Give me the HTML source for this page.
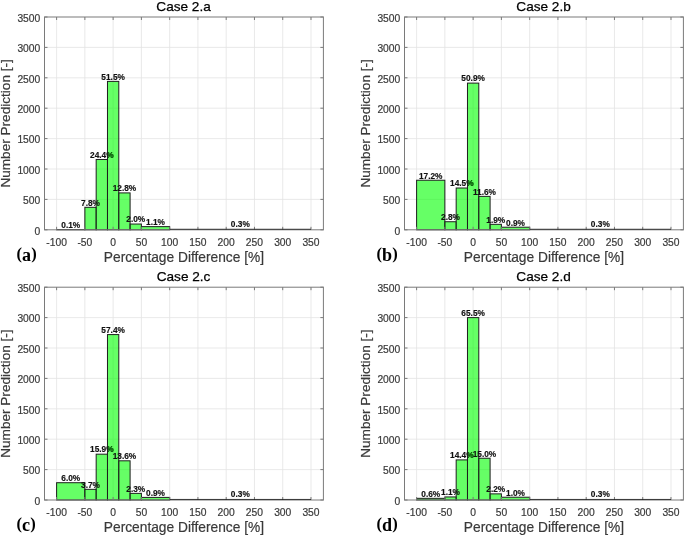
<!DOCTYPE html>
<html><head><meta charset="utf-8"><title>Histograms</title>
<style>
html,body{margin:0;padding:0;background:#fff;}
body{width:685px;height:537px;overflow:hidden;}
svg{display:block;filter:blur(0.35px);}
text{font-family:"Liberation Sans",sans-serif;}
.lb text{font-size:8.3px;font-weight:bold;fill:#111;stroke:#111;stroke-width:0.15px;text-anchor:middle;}
.xt text{font-size:10.3px;fill:#3a3a3a;stroke:#3a3a3a;stroke-width:0.2px;text-anchor:middle;}
.yt text{font-size:10.3px;fill:#3a3a3a;stroke:#3a3a3a;stroke-width:0.2px;text-anchor:end;}
.ti{font-size:13.6px;fill:#000;stroke:#000;stroke-width:0.25px;text-anchor:middle;}
.xl{font-size:13.75px;fill:#3a3a3a;stroke:#3a3a3a;stroke-width:0.2px;text-anchor:middle;}
.yl{font-size:13.6px;fill:#3a3a3a;stroke:#3a3a3a;stroke-width:0.2px;text-anchor:middle;}
.lbg text{fill:#135013;stroke:#135013;}
.tl{font-size:18.1px;}
.tag{font-family:"Liberation Serif",serif;font-size:16.5px;font-weight:bold;fill:#000;}
</style></head>
<body><svg width="685" height="537" viewBox="0 0 685 537">
<rect width="685" height="537" fill="#fff"/>
<path d="M56.6 17V229.8M84.87 17V229.8M113.13 17V229.8M141.4 17V229.8M169.66 17V229.8M197.93 17V229.8M226.19 17V229.8M254.46 17V229.8M282.72 17V229.8M310.99 17V229.8M44.5 199.4H323.4M44.5 169H323.4M44.5 138.6H323.4M44.5 108.2H323.4M44.5 77.8H323.4M44.5 47.4H323.4" stroke="#e3e3e3" stroke-width="0.8" fill="none"/>
<g class="lb"><text x="101.82" y="157.78">24.4%</text></g>
<g fill="#00ff00" fill-opacity="0.6" stroke="#1e1e1e" stroke-width="1.0"><rect x="56.6" y="229.51" width="28.27" height="0.29"/><rect x="84.87" y="207.32" width="11.31" height="22.48"/><rect x="96.17" y="159.48" width="11.31" height="70.32"/><rect x="107.48" y="81.38" width="11.31" height="148.42"/><rect x="118.78" y="192.91" width="11.31" height="36.89"/><rect x="130.09" y="224.04" width="11.31" height="5.76"/><rect x="141.4" y="226.63" width="28.26" height="3.17"/></g>
<g class="lb"><text x="70.73" y="227.81">0.1%</text><text x="90.52" y="205.62">7.8%</text><text x="113.13" y="79.68">51.5%</text><text x="124.44" y="191.21">12.8%</text><text x="135.74" y="222.34">2.0%</text><text x="155.53" y="224.93">1.1%</text><text x="240.32" y="227.24">0.3%</text></g>
<clipPath id="cpa"><rect x="107.98" y="81.88" width="10.31" height="148.42"/></clipPath>
<g class="lb lbg" clip-path="url(#cpa)"><text x="101.82" y="157.78">24.4%</text></g>
<path d="M56.6 229.8v-3M56.6 17v3M84.87 229.8v-3M84.87 17v3M113.13 229.8v-3M113.13 17v3M141.4 229.8v-3M141.4 17v3M169.66 229.8v-3M169.66 17v3M197.93 229.8v-3M197.93 17v3M226.19 229.8v-3M226.19 17v3M254.46 229.8v-3M254.46 17v3M282.72 229.8v-3M282.72 17v3M310.99 229.8v-3M310.99 17v3M44.5 229.8h3M323.4 229.8h-3M44.5 199.4h3M323.4 199.4h-3M44.5 169h3M323.4 169h-3M44.5 138.6h3M323.4 138.6h-3M44.5 108.2h3M323.4 108.2h-3M44.5 77.8h3M323.4 77.8h-3M44.5 47.4h3M323.4 47.4h-3M44.5 17h3M323.4 17h-3" stroke="#7a7a7a" stroke-width="1.0" fill="none"/>
<rect x="44.5" y="17" width="278.9" height="212.8" fill="none" stroke="#7a7a7a" stroke-width="1.0"/>
<path d="M169.66 229.25H310.99" stroke="#111" stroke-width="0.8"/>
<g class="xt"><text x="56.6" y="245.5">-100</text><text x="84.87" y="245.5">-50</text><text x="113.13" y="245.5">0</text><text x="141.4" y="245.5">50</text><text x="169.66" y="245.5">100</text><text x="197.93" y="245.5">150</text><text x="226.19" y="245.5">200</text><text x="254.46" y="245.5">250</text><text x="282.72" y="245.5">300</text><text x="310.99" y="245.5">350</text></g>
<g class="yt"><text x="40.3" y="234.5">0</text><text x="40.3" y="204.1">500</text><text x="40.3" y="173.7">1000</text><text x="40.3" y="143.3">1500</text><text x="40.3" y="112.9">2000</text><text x="40.3" y="82.5">2500</text><text x="40.3" y="52.1">3000</text><text x="40.3" y="21.7">3500</text></g>
<text class="ti" x="183.55" y="10.8">Case 2.a</text>
<text class="xl" x="183.95" y="262.2">Percentage Difference [%]</text>
<text class="yl" transform="translate(10.4 123.4) rotate(-90)">Number Prediction [-]</text>
<text class="tag" x="16.6" y="259">(<tspan class="tl" dy="1.95">a</tspan><tspan dy="-1.95">)</tspan></text>
<path d="M416.6 17V229.8M444.87 17V229.8M473.13 17V229.8M501.4 17V229.8M529.66 17V229.8M557.93 17V229.8M586.19 17V229.8M614.46 17V229.8M642.72 17V229.8M670.99 17V229.8M404.5 199.4H683.4M404.5 169H683.4M404.5 138.6H683.4M404.5 108.2H683.4M404.5 77.8H683.4M404.5 47.4H683.4" stroke="#e3e3e3" stroke-width="0.8" fill="none"/>
<g class="lb"><text x="461.82" y="186.31">14.5%</text></g>
<g fill="#00ff00" fill-opacity="0.6" stroke="#1e1e1e" stroke-width="1.0"><rect x="416.6" y="180.23" width="28.26" height="49.57"/><rect x="444.87" y="221.73" width="11.31" height="8.07"/><rect x="456.17" y="188.01" width="11.31" height="41.79"/><rect x="467.48" y="83.11" width="11.31" height="146.69"/><rect x="478.78" y="196.37" width="11.31" height="33.43"/><rect x="490.09" y="224.32" width="11.31" height="5.48"/><rect x="501.4" y="227.21" width="28.27" height="2.59"/></g>
<g class="lb"><text x="430.73" y="178.53">17.2%</text><text x="450.52" y="220.03">2.8%</text><text x="473.13" y="81.41">50.9%</text><text x="484.44" y="194.67">11.6%</text><text x="495.74" y="222.62">1.9%</text><text x="515.53" y="225.51">0.9%</text><text x="600.32" y="227.24">0.3%</text></g>
<clipPath id="cpb"><rect x="467.98" y="83.61" width="10.31" height="146.69"/></clipPath>
<g class="lb lbg" clip-path="url(#cpb)"><text x="461.82" y="186.31">14.5%</text></g>
<path d="M416.6 229.8v-3M416.6 17v3M444.87 229.8v-3M444.87 17v3M473.13 229.8v-3M473.13 17v3M501.4 229.8v-3M501.4 17v3M529.66 229.8v-3M529.66 17v3M557.93 229.8v-3M557.93 17v3M586.19 229.8v-3M586.19 17v3M614.46 229.8v-3M614.46 17v3M642.72 229.8v-3M642.72 17v3M670.99 229.8v-3M670.99 17v3M404.5 229.8h3M683.4 229.8h-3M404.5 199.4h3M683.4 199.4h-3M404.5 169h3M683.4 169h-3M404.5 138.6h3M683.4 138.6h-3M404.5 108.2h3M683.4 108.2h-3M404.5 77.8h3M683.4 77.8h-3M404.5 47.4h3M683.4 47.4h-3M404.5 17h3M683.4 17h-3" stroke="#7a7a7a" stroke-width="1.0" fill="none"/>
<rect x="404.5" y="17" width="278.9" height="212.8" fill="none" stroke="#7a7a7a" stroke-width="1.0"/>
<path d="M529.66 229.25H670.99" stroke="#111" stroke-width="0.8"/>
<g class="xt"><text x="416.6" y="245.5">-100</text><text x="444.87" y="245.5">-50</text><text x="473.13" y="245.5">0</text><text x="501.4" y="245.5">50</text><text x="529.66" y="245.5">100</text><text x="557.93" y="245.5">150</text><text x="586.19" y="245.5">200</text><text x="614.46" y="245.5">250</text><text x="642.72" y="245.5">300</text><text x="670.99" y="245.5">350</text></g>
<g class="yt"><text x="400.3" y="234.5">0</text><text x="400.3" y="204.1">500</text><text x="400.3" y="173.7">1000</text><text x="400.3" y="143.3">1500</text><text x="400.3" y="112.9">2000</text><text x="400.3" y="82.5">2500</text><text x="400.3" y="52.1">3000</text><text x="400.3" y="21.7">3500</text></g>
<text class="ti" x="543.55" y="10.8">Case 2.b</text>
<text class="xl" x="543.95" y="262.2">Percentage Difference [%]</text>
<text class="yl" transform="translate(370.4 123.4) rotate(-90)">Number Prediction [-]</text>
<text class="tag" x="376.6" y="259">(<tspan class="tl" dy="1.95">b</tspan><tspan dy="-1.95">)</tspan></text>
<path d="M56.6 287.2V500M84.87 287.2V500M113.13 287.2V500M141.4 287.2V500M169.66 287.2V500M197.93 287.2V500M226.19 287.2V500M254.46 287.2V500M282.72 287.2V500M310.99 287.2V500M44.5 469.6H323.4M44.5 439.2H323.4M44.5 408.8H323.4M44.5 378.4H323.4M44.5 348H323.4M44.5 317.6H323.4" stroke="#e3e3e3" stroke-width="0.8" fill="none"/>
<g class="lb"><text x="101.82" y="452.48">15.9%</text></g>
<g fill="#00ff00" fill-opacity="0.6" stroke="#1e1e1e" stroke-width="1.0"><rect x="56.6" y="482.71" width="28.27" height="17.29"/><rect x="84.87" y="489.34" width="11.31" height="10.66"/><rect x="96.17" y="454.18" width="11.31" height="45.82"/><rect x="107.48" y="334.58" width="11.31" height="165.42"/><rect x="118.78" y="460.81" width="11.31" height="39.19"/><rect x="130.09" y="493.37" width="11.31" height="6.63"/><rect x="141.4" y="497.41" width="28.26" height="2.59"/></g>
<g class="lb"><text x="70.73" y="481.01">6.0%</text><text x="90.52" y="487.64">3.7%</text><text x="113.13" y="332.88">57.4%</text><text x="124.44" y="459.11">13.6%</text><text x="135.74" y="491.67">2.3%</text><text x="155.53" y="495.71">0.9%</text><text x="240.32" y="497.44">0.3%</text></g>
<clipPath id="cpc"><rect x="107.98" y="335.08" width="10.31" height="165.42"/></clipPath>
<g class="lb lbg" clip-path="url(#cpc)"><text x="101.82" y="452.48">15.9%</text></g>
<path d="M56.6 500v-3M56.6 287.2v3M84.87 500v-3M84.87 287.2v3M113.13 500v-3M113.13 287.2v3M141.4 500v-3M141.4 287.2v3M169.66 500v-3M169.66 287.2v3M197.93 500v-3M197.93 287.2v3M226.19 500v-3M226.19 287.2v3M254.46 500v-3M254.46 287.2v3M282.72 500v-3M282.72 287.2v3M310.99 500v-3M310.99 287.2v3M44.5 500h3M323.4 500h-3M44.5 469.6h3M323.4 469.6h-3M44.5 439.2h3M323.4 439.2h-3M44.5 408.8h3M323.4 408.8h-3M44.5 378.4h3M323.4 378.4h-3M44.5 348h3M323.4 348h-3M44.5 317.6h3M323.4 317.6h-3M44.5 287.2h3M323.4 287.2h-3" stroke="#7a7a7a" stroke-width="1.0" fill="none"/>
<rect x="44.5" y="287.2" width="278.9" height="212.8" fill="none" stroke="#7a7a7a" stroke-width="1.0"/>
<path d="M169.66 499.45H310.99" stroke="#111" stroke-width="0.8"/>
<g class="xt"><text x="56.6" y="515.7">-100</text><text x="84.87" y="515.7">-50</text><text x="113.13" y="515.7">0</text><text x="141.4" y="515.7">50</text><text x="169.66" y="515.7">100</text><text x="197.93" y="515.7">150</text><text x="226.19" y="515.7">200</text><text x="254.46" y="515.7">250</text><text x="282.72" y="515.7">300</text><text x="310.99" y="515.7">350</text></g>
<g class="yt"><text x="40.3" y="504.7">0</text><text x="40.3" y="474.3">500</text><text x="40.3" y="443.9">1000</text><text x="40.3" y="413.5">1500</text><text x="40.3" y="383.1">2000</text><text x="40.3" y="352.7">2500</text><text x="40.3" y="322.3">3000</text><text x="40.3" y="291.9">3500</text></g>
<text class="ti" x="183.55" y="281">Case 2.c</text>
<text class="xl" x="183.95" y="532.4">Percentage Difference [%]</text>
<text class="yl" transform="translate(10.4 393.6) rotate(-90)">Number Prediction [-]</text>
<text class="tag" x="16.6" y="529.2">(<tspan class="tl" dy="1.95">c</tspan><tspan dy="-1.95">)</tspan></text>
<path d="M416.6 287.2V500M444.87 287.2V500M473.13 287.2V500M501.4 287.2V500M529.66 287.2V500M557.93 287.2V500M586.19 287.2V500M614.46 287.2V500M642.72 287.2V500M670.99 287.2V500M404.5 469.6H683.4M404.5 439.2H683.4M404.5 408.8H683.4M404.5 378.4H683.4M404.5 348H683.4M404.5 317.6H683.4" stroke="#e3e3e3" stroke-width="0.8" fill="none"/>
<g class="lb"><text x="461.82" y="458.2">14.4%</text></g>
<g fill="#00ff00" fill-opacity="0.6" stroke="#1e1e1e" stroke-width="1.0"><rect x="416.6" y="498.33" width="28.26" height="1.67"/><rect x="444.87" y="496.94" width="11.31" height="3.06"/><rect x="456.17" y="459.9" width="11.31" height="40.1"/><rect x="467.48" y="317.61" width="11.31" height="182.39"/><rect x="478.78" y="458.23" width="11.31" height="41.77"/><rect x="490.09" y="493.87" width="11.31" height="6.13"/><rect x="501.4" y="497.22" width="28.27" height="2.78"/></g>
<g class="lb"><text x="430.73" y="496.63">0.6%</text><text x="450.52" y="495.24">1.1%</text><text x="473.13" y="315.91">65.5%</text><text x="484.44" y="456.53">15.0%</text><text x="495.74" y="492.17">2.2%</text><text x="515.53" y="495.52">1.0%</text><text x="600.32" y="497.46">0.3%</text></g>
<clipPath id="cpd"><rect x="467.98" y="318.11" width="10.31" height="182.39"/></clipPath>
<g class="lb lbg" clip-path="url(#cpd)"><text x="461.82" y="458.2">14.4%</text></g>
<path d="M416.6 500v-3M416.6 287.2v3M444.87 500v-3M444.87 287.2v3M473.13 500v-3M473.13 287.2v3M501.4 500v-3M501.4 287.2v3M529.66 500v-3M529.66 287.2v3M557.93 500v-3M557.93 287.2v3M586.19 500v-3M586.19 287.2v3M614.46 500v-3M614.46 287.2v3M642.72 500v-3M642.72 287.2v3M670.99 500v-3M670.99 287.2v3M404.5 500h3M683.4 500h-3M404.5 469.6h3M683.4 469.6h-3M404.5 439.2h3M683.4 439.2h-3M404.5 408.8h3M683.4 408.8h-3M404.5 378.4h3M683.4 378.4h-3M404.5 348h3M683.4 348h-3M404.5 317.6h3M683.4 317.6h-3M404.5 287.2h3M683.4 287.2h-3" stroke="#7a7a7a" stroke-width="1.0" fill="none"/>
<rect x="404.5" y="287.2" width="278.9" height="212.8" fill="none" stroke="#7a7a7a" stroke-width="1.0"/>
<path d="M529.66 499.45H670.99" stroke="#111" stroke-width="0.8"/>
<g class="xt"><text x="416.6" y="515.7">-100</text><text x="444.87" y="515.7">-50</text><text x="473.13" y="515.7">0</text><text x="501.4" y="515.7">50</text><text x="529.66" y="515.7">100</text><text x="557.93" y="515.7">150</text><text x="586.19" y="515.7">200</text><text x="614.46" y="515.7">250</text><text x="642.72" y="515.7">300</text><text x="670.99" y="515.7">350</text></g>
<g class="yt"><text x="400.3" y="504.7">0</text><text x="400.3" y="474.3">500</text><text x="400.3" y="443.9">1000</text><text x="400.3" y="413.5">1500</text><text x="400.3" y="383.1">2000</text><text x="400.3" y="352.7">2500</text><text x="400.3" y="322.3">3000</text><text x="400.3" y="291.9">3500</text></g>
<text class="ti" x="543.55" y="281">Case 2.d</text>
<text class="xl" x="543.95" y="532.4">Percentage Difference [%]</text>
<text class="yl" transform="translate(370.4 393.6) rotate(-90)">Number Prediction [-]</text>
<text class="tag" x="376.6" y="529.2">(<tspan class="tl" dy="1.95">d</tspan><tspan dy="-1.95">)</tspan></text>
</svg></body></html>
